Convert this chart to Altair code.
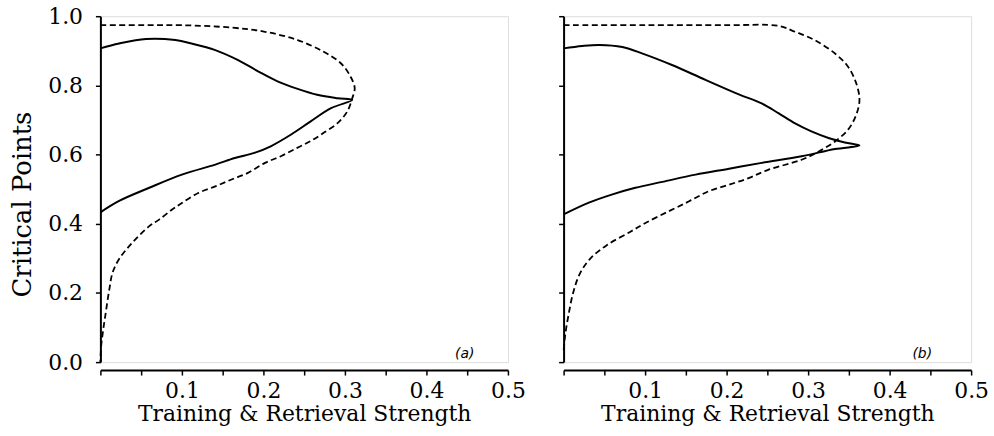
import altair as alt
import pandas as pd

# ---------------- data ----------------
# Panel (a): dashed loop (upper branch out to the tip, lower branch back to 0)
a_dash_x = [0.0, 0.05, 0.1, 0.161, 0.202, 0.242, 0.274, 0.295, 0.307, 0.312, 0.309, 0.303, 0.291, 0.274,
            0.258, 0.242, 0.222, 0.202, 0.181, 0.161, 0.141, 0.12, 0.1, 0.088, 0.072, 0.06, 0.039, 0.023,
            0.015, 0.011, 0.006, 0.003, 0.001, 0.0]
a_dash_y = [0.974, 0.974, 0.974, 0.967, 0.955, 0.931, 0.897, 0.864, 0.825, 0.792, 0.763, 0.725, 0.691, 0.663,
            0.639, 0.620, 0.596, 0.576, 0.547, 0.528, 0.508, 0.489, 0.460, 0.441, 0.412, 0.393, 0.345, 0.298,
            0.259, 0.211, 0.134, 0.086, 0.048, 0.0]
# Panel (a): solid loop
a_solid_x = [0.0, 0.023, 0.056, 0.092, 0.112, 0.141, 0.169, 0.194, 0.218, 0.242, 0.266, 0.291, 0.309,
             0.283, 0.258, 0.234, 0.209, 0.189, 0.165, 0.141, 0.1, 0.06, 0.023, 0.0]
a_solid_y = [0.907, 0.921, 0.934, 0.931, 0.921, 0.902, 0.873, 0.840, 0.811, 0.790, 0.773, 0.763, 0.758,
             0.734, 0.696, 0.658, 0.624, 0.605, 0.590, 0.571, 0.542, 0.504, 0.466, 0.433]

# Panel (b): dashed loop
b_dash_x = [0.0, 0.1, 0.2, 0.264, 0.284, 0.308, 0.333, 0.349, 0.359, 0.363, 0.359, 0.349, 0.333, 0.313,
            0.292, 0.251, 0.227, 0.203, 0.178, 0.154, 0.129, 0.101, 0.082, 0.053, 0.033, 0.02, 0.012,
            0.006, 0.002, 0.0]
b_dash_y = [0.974, 0.974, 0.974, 0.972, 0.955, 0.931, 0.892, 0.854, 0.806, 0.758, 0.715, 0.672, 0.638,
            0.609, 0.585, 0.556, 0.532, 0.513, 0.494, 0.465, 0.436, 0.403, 0.377, 0.338, 0.300, 0.256,
            0.203, 0.136, 0.079, 0.031]
# Panel (b): solid loop
b_solid_x = [0.0, 0.023, 0.044, 0.072, 0.097, 0.133, 0.174, 0.215, 0.243, 0.264, 0.284, 0.304, 0.325,
             0.345, 0.363, 0.333, 0.292, 0.243, 0.203, 0.162, 0.121, 0.088, 0.06, 0.031, 0.0]
b_solid_y = [0.907, 0.914, 0.917, 0.911, 0.892, 0.859, 0.816, 0.774, 0.748, 0.719, 0.690, 0.667, 0.648,
             0.635, 0.626, 0.616, 0.595, 0.576, 0.559, 0.542, 0.521, 0.504, 0.485, 0.461, 0.427]

panel_names = ["(a)", "(b)"]
panel_label_x = [0.447, 0.44]
panel_label_y = [0.0, 0.0]

x_tick_values = [0.0, 0.05, 0.1, 0.15, 0.2, 0.25, 0.3, 0.35, 0.4, 0.45, 0.5]
y_tick_values = [0.0, 0.1, 0.2, 0.3, 0.4, 0.5, 0.6, 0.7, 0.8, 0.9, 1.0]

x_title = "Training & Retrieval Strength"
y_title = "Critical Points"

FONT = "DejaVu Serif"


def curve_df(xs, ys, name):
    return pd.DataFrame({"x": xs, "y": ys, "i": list(range(len(xs))), "curve": name})


def panel(dash_x, dash_y, solid_x, solid_y, label, lx, ly, show_y_labels):
    dash = curve_df(dash_x, dash_y, "dash")
    solid = curve_df(solid_x, solid_y, "solid")

    x_enc = alt.X(
        "x:Q",
        scale=alt.Scale(domain=[0, 0.5], nice=False, zero=False),
        axis=alt.Axis(
            values=x_tick_values,
            labelExpr="datum.value < 0.07 || (round(datum.value*100) % 10 != 0) ? '' : format(datum.value, '.1f')",
            title=x_title,
            offset=8,
            grid=False,
            tickSize=5, tickWidth=1.5, domainWidth=2,
            domainColor="black", tickColor="black", labelColor="black", titleColor="black",
            labelFont=FONT, titleFont=FONT, labelFontSize=22, titleFontSize=22,
            titleFontWeight="normal", labelPadding=6, titlePadding=2,
            labelFlush=False,
        ),
    )
    y_axis_kwargs = dict(
        values=y_tick_values,
        grid=False,
        tickSize=5, tickWidth=1.5, domainWidth=2,
        domainColor="black", tickColor="black", labelColor="black", titleColor="black",
        labelFont=FONT, titleFont=FONT, labelFontSize=22, titleFontSize=26,
        titleFontWeight="normal", labelPadding=13, titlePadding=12,
    )
    if show_y_labels:
        y_axis_kwargs.update(
            labelExpr="(round(datum.value*10) % 2 != 0) ? '' : format(datum.value, '.1f')",
            title=y_title,
            titleY=189,
        )
    else:
        y_axis_kwargs.update(labels=False, title=None)
    y_enc = alt.Y("y:Q", scale=alt.Scale(domain=[0, 1], nice=False), axis=alt.Axis(**y_axis_kwargs))

    dash_line = alt.Chart(dash).mark_line(
        color="black", strokeWidth=1.8, strokeDash=[6, 3.5], interpolate="catmull-rom"
    ).encode(x=x_enc, y=y_enc, order="i:Q")
    solid_line = alt.Chart(solid).mark_line(
        color="black", strokeWidth=2, interpolate="catmull-rom"
    ).encode(x=x_enc, y=y_enc, order="i:Q")
    lab = alt.Chart(pd.DataFrame({"x": [lx], "y": [ly], "t": [label]})).mark_text(
        font="DejaVu Sans", fontSize=14, fontStyle="italic", baseline="bottom", align="center", dy=-1,
        color="black",
    ).encode(x=alt.X("x:Q"), y=alt.Y("y:Q"), text="t:N")
    return alt.layer(dash_line, solid_line, lab).properties(width=410, height=348)


left = panel(a_dash_x, a_dash_y, a_solid_x, a_solid_y, panel_names[0], panel_label_x[0], panel_label_y[0], True)
right = panel(b_dash_x, b_dash_y, b_solid_x, b_solid_y, panel_names[1], panel_label_x[1], panel_label_y[1], False)

chart = alt.hconcat(left, right, spacing=56, bounds="flush").properties(
    padding={"left": 9, "top": 3, "right": 5, "bottom": 5}
).configure_view(stroke="transparent", strokeWidth=0).configure(background="white")

chart.save("out.html", embed_options={"renderer": "svg", "actions": False})
